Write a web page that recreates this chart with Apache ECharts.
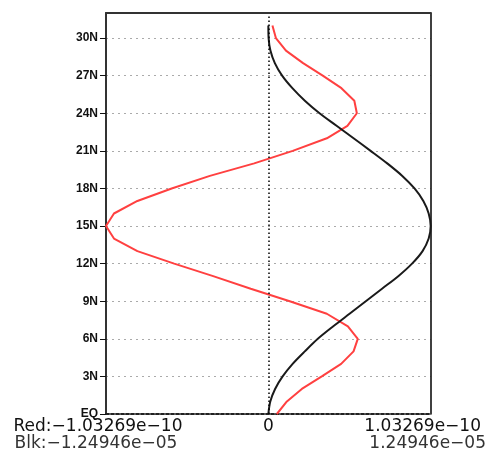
<!DOCTYPE html>
<html>
<head>
<meta charset="utf-8">
<script src="https://cdn.jsdelivr.net/npm/echarts@6/dist/echarts.min.js"></script>
<style>html,body{margin:0;padding:0;background:#fff;}#c{width:489px;height:452px;}</style>
</head>
<body>
<div id="c"></div>
<script>
// latitudes (degrees N)
const lats = [0,1,2,3,4,5,6,7,8,9,10,11,12,13,14,15,16,17,18,19,20,21,22,23,24,25,26,27,28,29,30,31];
// Red series, units of 1e-10
const redValues = [0.054,0.118,0.213,0.340,0.463,0.542,0.569,0.506,0.372,0.136,-0.112,-0.351,-0.599,-0.833,-0.982,-1.03269,-0.982,-0.833,-0.615,-0.372,-0.090,0.155,0.372,0.503,0.563,0.547,0.465,0.346,0.221,0.112,0.048,0.026];
// Black series, units of 1e-5
const blackValues = [0,0.015,0.052,0.110,0.187,0.281,0.381,0.500,0.625,0.750,0.875,1.000,1.106,1.187,1.234,1.24946,1.234,1.193,1.125,1.031,0.915,0.787,0.656,0.525,0.394,0.281,0.185,0.106,0.050,0.016,0.002,0];
// axis limits
const redMax = 1.03269;     // x 1e-10
const blackMax = 1.24946;   // x 1e-5
const redMaxLabel = '1.03269e\u221210';
const blackMaxLabel = '1.24946e\u221205';
const latTicks = [0,3,6,9,12,15,18,21,24,27,30];
const latTickLabels = ['EQ','3N','6N','9N','12N','15N','18N','21N','24N','27N','30N'];
const latMax = 32;

const chart = echarts.init(document.getElementById('c'), null, {renderer: 'canvas'});
const font = 'DejaVu Sans';
const near = (a, b) => Math.abs(a - b) < 1e-6;

chart.setOption({
  animation: false,
  grid: {left: 106, right: 58, top: 13, bottom: 38, containLabel: false},
  xAxis: [
    {
      type: 'value', position: 'bottom', min: -redMax, max: redMax, interval: redMax,
      axisLine: {show: true, lineStyle: {color: '#222', width: 2, type: [3, 2]}},
      axisTick: {show: false},
      splitLine: {show: false},
      axisLabel: {
        margin: 4, color: '#111', fontFamily: font, fontSize: 17,
        showMinLabel: true, showMaxLabel: true,
        formatter: v => near(v, 0) ? '{z|0}' : (v < 0 ? '{a|Red:\u2212' + redMaxLabel + '}' : '{a|' + redMaxLabel + '}'),
        rich: {
          a: {fontFamily: font, fontSize: 17, color: '#111', padding: [0, 16, 0, 0]},
          z: {fontFamily: font, fontSize: 17, color: '#111'}
        }
      }
    },
    {
      type: 'value', position: 'bottom', offset: 17, min: -blackMax, max: blackMax, interval: blackMax,
      axisLine: {show: false}, axisTick: {show: false}, splitLine: {show: false},
      axisLabel: {
        margin: 4, color: '#333', fontFamily: font, fontSize: 17,
        showMinLabel: true, showMaxLabel: true,
        formatter: v => near(v, 0) ? '' : (v < 0 ? '{a|Blk:\u2212' + blackMaxLabel + '}' : '{b|' + blackMaxLabel + '}'),
        rich: {
          a: {fontFamily: font, fontSize: 17, color: '#333', padding: [0, 20, 0, 0]},
          b: {fontFamily: font, fontSize: 17, color: '#333', padding: [0, 6, 0, 0]}
        }
      }
    },
    {
      type: 'value', position: 'top', min: -redMax, max: redMax, z: 5,
      axisLine: {show: true, lineStyle: {color: '#333', width: 2}},
      axisTick: {show: false}, axisLabel: {show: false}, splitLine: {show: false}
    }
  ],
  yAxis: [
    {
      type: 'value', position: 'left', min: 0, max: latMax, interval: 3,
      axisLine: {show: true, onZero: false, lineStyle: {color: '#333', width: 2}},
      axisTick: {show: true, length: 6, customValues: latTicks, lineStyle: {color: '#111', width: 1}},
      axisLabel: {
        margin: 8, color: '#111', fontFamily: 'Liberation Sans', fontWeight: 'bold', fontSize: 12,
        customValues: latTicks,
        formatter: v => { const i = latTicks.indexOf(Math.round(v)); return i >= 0 && near(v, latTicks[i]) ? latTickLabels[i] : ''; }
      },
      splitLine: {show: true, lineStyle: {color: '#aaa', width: 1, type: [2, 4]}}
    },
    {
      type: 'value', position: 'right', min: 0, max: latMax,
      axisLine: {show: true, onZero: false, lineStyle: {color: '#000', width: 1.5}},
      axisTick: {show: false}, axisLabel: {show: false}, splitLine: {show: false}
    }
  ],
  series: [
    {
      name: 'Red', type: 'line', xAxisIndex: 0, yAxisIndex: 0,
      data: lats.map((lat, i) => [redValues[i], lat]),
      showSymbol: false, symbol: 'none', smooth: false,
      lineStyle: {color: '#ff4040', width: 2},
      markLine: {
        silent: true, symbol: ['none', 'none'], label: {show: false},
        lineStyle: {color: '#000', width: 1.5, type: [1.5, 2.5]},
        data: [{xAxis: 0}]
      }
    },
    {
      name: 'Blk', type: 'line', xAxisIndex: 1, yAxisIndex: 0,
      data: lats.map((lat, i) => [blackValues[i], lat]),
      showSymbol: false, symbol: 'none', smooth: 0.3,
      lineStyle: {color: '#1a1a1a', width: 2}
    }
  ]
});
</script>
</body>
</html>
